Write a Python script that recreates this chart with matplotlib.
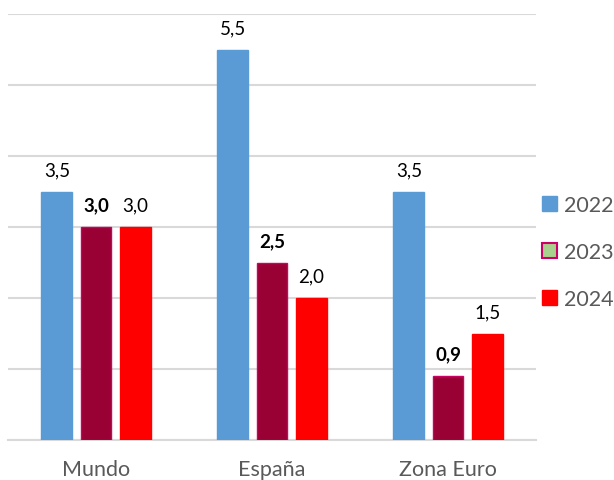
import matplotlib
matplotlib.use("Agg")
import matplotlib.pyplot as plt
from matplotlib.patches import Patch
import numpy as np

categories = ["Mundo", "España", "Zona Euro"]
series_names = ["2022", "2023", "2024"]
v2022 = [3.5, 5.5, 3.5]
v2023 = [3.0, 2.5, 0.9]
v2024 = [3.0, 2.0, 1.5]

plt.rcParams['font.family'] = ['Lato', 'DejaVu Sans']

fig = plt.figure(figsize=(6.14, 4.81), dpi=100)
ax = fig.add_axes([8/614, 1-441/481, (536-8)/614, (441-15)/481])

x = np.arange(len(categories))
w = 0.176
step = 0.222
colors = ["#5B9BD5", "#990033", "#FF0000"]
edges = ["#5B9BD5", "#CC0066", "#FF0000"]
data = [v2022, v2023, v2024]
for i, vals in enumerate(data):
    xs = x + (i - 1) * step
    ax.bar(xs, vals, width=w, color=colors[i], edgecolor=edges[i], linewidth=1.0, zorder=3)
    for xx, v in zip(xs, vals):
        ax.text(xx, v + 0.19, f"{v:.1f}".replace(".", ","), ha="center", va="bottom",
                fontsize=13.5, fontweight="bold" if i == 1 else "normal", color="#000000")

ax.set_xlim(-0.5, 2.5)
ax.set_ylim(0, 6)
ax.set_yticks(np.arange(0, 7, 1))
ax.yaxis.grid(True, color="#D9D9D9", linewidth=1.5, zorder=0)
ax.set_yticklabels([])
ax.tick_params(axis="y", length=0)
ax.tick_params(axis="x", length=0, pad=14, labelsize=15.5, labelcolor="#595959")
ax.set_xticks(x)
ax.set_xticklabels(categories)
for s in ["top", "right", "left"]:
    ax.spines[s].set_visible(False)
ax.spines["bottom"].set_color("#D9D9D9")
ax.spines["bottom"].set_linewidth(1.5)

handles = [Patch(facecolor="#5B9BD5", edgecolor="#5B9BD5"),
           Patch(facecolor="#A9D18E", edgecolor="#CC0066", linewidth=1.5),
           Patch(facecolor="#FF0000", edgecolor="#FF0000")]
leg = fig.legend(handles, series_names, loc="center left", bbox_to_anchor=(542/614, 1-253/481),
                 frameon=False, fontsize=15.5, labelcolor="#595959", handlelength=0.7, handleheight=0.7,
                 handletextpad=0.3, labelspacing=1.25, borderpad=0, borderaxespad=0)

fig.savefig("out.png", dpi=100)
